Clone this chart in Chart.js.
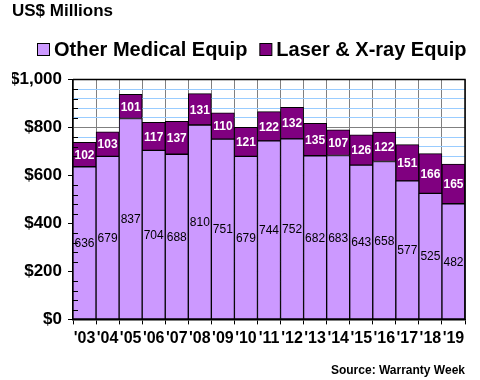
<!DOCTYPE html>
<html>
<head>
<meta charset="utf-8">
<script src="https://cdn.jsdelivr.net/npm/chart.js@4.4.1/dist/chart.umd.min.js"></script>
<style>
html,body{margin:0;padding:0;background:#fff;}
#wrap{width:480px;height:380px;}
</style>
</head>
<body>
<div id="wrap"><canvas id="c" width="480" height="380"></canvas></div>
<script>
const years = ["'03","'04","'05","'06","'07","'08","'09","'10","'11","'12","'13","'14","'15","'16","'17","'18","'19"];
const otherMedical = [636,679,837,704,688,810,751,679,744,752,682,683,643,658,577,525,482];
const laserXray = [102,103,101,117,137,131,110,121,122,132,135,107,126,122,151,166,165];
const yTickLabels = [0,200,400,600,800,1000];

const FONT = "'Liberation Sans', Arial, sans-serif";

const decor = {
  id: 'decor',
  afterDraw(chart) {
    const ctx = chart.ctx;
    ctx.save();
    // legend
    ctx.font = "bold 20px " + FONT;
    ctx.textBaseline = 'middle';
    ctx.textAlign = 'left';
    let x = 37;
    const ly = 50;
    chart.data.datasets.forEach(ds => {
      ctx.fillStyle = ds.backgroundColor;
      ctx.fillRect(x + 0.5, ly - 6.5, 12, 12);
      ctx.strokeStyle = '#000';
      ctx.lineWidth = 1;
      ctx.strokeRect(x + 0.5, ly - 6.5, 12, 12);
      ctx.fillStyle = '#000';
      ctx.fillText(ds.label, x + 17, ly);
      x += 17 + ctx.measureText(ds.label).width + 12;
    });
    ctx.restore();
  },
  afterDatasetsDraw(chart) {
    const ctx = chart.ctx;
    const a = chart.chartArea;
    const y = chart.scales.y;
    ctx.save();
    // minor ticks inside y axis
    ctx.strokeStyle = '#000';
    ctx.lineWidth = 1;
    for (let v = 40; v < 1000; v += 40) {
      if (v % 200 === 0) continue;
      const py = Math.round(y.getPixelForValue(v)) + 0.5;
      ctx.beginPath();
      ctx.moveTo(a.left, py);
      ctx.lineTo(a.left + 5, py);
      ctx.stroke();
    }
    // plot border top & right
    ctx.lineWidth = 1.5;
    ctx.beginPath();
    ctx.moveTo(a.left, a.top);
    ctx.lineTo(a.right, a.top);
    ctx.lineTo(a.right, a.bottom);
    ctx.stroke();
    // value labels
    ctx.textAlign = 'center';
    ctx.textBaseline = 'middle';
    chart.data.datasets.forEach((ds, di) => {
      const meta = chart.getDatasetMeta(di);
      meta.data.forEach((bar, i) => {
        const p = bar.getProps(['x','y','base'], true);
        const cy = (p.y + p.base) / 2;
        if (di === 0) {
          ctx.fillStyle = '#000';
          ctx.font = "12px " + FONT;
        } else {
          ctx.fillStyle = '#fff';
          ctx.font = "bold 12px " + FONT;
        }
        ctx.fillText(String(ds.data[i]), p.x, cy + 1);
      });
    });
    ctx.restore();
  }
};

new Chart(document.getElementById('c'), {
  type: 'bar',
  data: {
    labels: years,
    datasets: [
      { label: 'Other Medical Equip', data: otherMedical, backgroundColor: '#CC99FF', borderColor: '#000', borderWidth: 1, borderSkipped: false },
      { label: 'Laser & X-ray Equip', data: laserXray, backgroundColor: '#800080', borderColor: '#000', borderWidth: 1, borderSkipped: false }
    ]
  },
  options: {
    responsive: false,
    animation: false,
    devicePixelRatio: 1,
    layout: { padding: { left: 12, right: 15, top: 0, bottom: 2 } },
    datasets: { bar: { categoryPercentage: 1, barPercentage: 1 } },
    plugins: {
      tooltip: { enabled: false },
      title: {
        display: true, text: 'US$ Millions', align: 'start', color: '#000',
        font: { family: FONT, size: 17, weight: 'bold' },
        padding: { top: 1, bottom: 58 }
      },
      legend: { display: false },
      subtitle: {
        display: true, position: 'bottom', align: 'end', text: 'Source: Warranty Week', color: '#000',
        font: { family: FONT, size: 12, weight: 'bold' },
        padding: { top: 10, bottom: 0 }
      }
    },
    scales: {
      x: {
        stacked: true,
        grid: { color: '#808080', lineWidth: 1, offset: true, tickColor: '#000', tickLength: 5 },
        border: { color: '#000', width: 1.5 },
        ticks: { color: '#000', font: { family: FONT, size: 16, weight: 'bold' }, padding: 5, maxRotation: 0, autoSkip: false }
      },
      y: {
        stacked: true, min: 0, max: 1000,
        afterFit(scale) { scale.width = 61; },
        afterBuildTicks(scale) {
          const t = [];
          for (let v = 0; v <= 1000; v += 40) t.push({ value: v });
          yTickLabels.forEach(v => { if (!t.find(k => k.value === v)) t.push({ value: v }); });
          t.sort((p, q) => p.value - q.value);
          scale.ticks = t;
        },
        grid: {
          color: c => (c.tick && c.tick.value % 200 === 0) ? '#808080' : '#99CCFF',
          tickColor: c => (c.tick && yTickLabels.includes(c.tick.value)) ? '#000' : 'rgba(0,0,0,0)',
          tickLength: 5, lineWidth: 1
        },
        border: { color: '#000', width: 1.5 },
        ticks: {
          color: '#000', autoSkip: false, padding: 6,
          font: { family: FONT, size: 17, weight: 'bold' },
          callback: v => yTickLabels.includes(v) ? '$' + v.toLocaleString('en-US') : ''
        }
      }
    }
  },
  plugins: [decor]
});
</script>
</body>
</html>
